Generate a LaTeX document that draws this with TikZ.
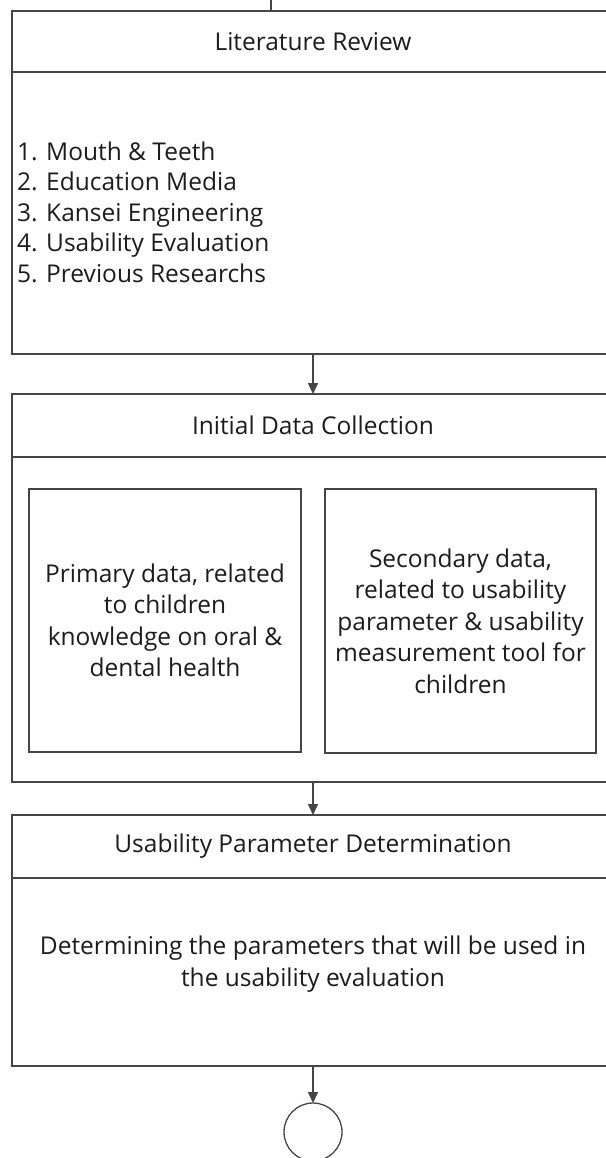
\documentclass[tikz,border=0pt]{standalone}
\usepackage{fontspec}
\setmainfont{Open Sans}
\usetikzlibrary{arrows.meta}
\definecolor{linec}{HTML}{454545}
\definecolor{txtc}{HTML}{1C1C1C}
\begin{document}
\begin{tikzpicture}[x=1pt,y=-1pt,
  box/.style={draw=linec, line width=1.6pt, rectangle, inner sep=0pt, outer sep=0pt, minimum width=602pt, text=txtc, font=\fontsize{24.5}{30}\selectfont},
  inbox/.style={draw=linec, line width=1.6pt, rectangle, inner sep=0pt, outer sep=0pt, text=txtc, align=center, font=\fontsize{24.5}{31.5}\selectfont},
  txt/.style={text=txtc, inner sep=0pt, font=\fontsize{24.5}{30.5}\selectfont},
  arr/.style={draw=linec, line width=1.6pt, -{Triangle[width=10pt,length=11pt]}},
  ln/.style={draw=linec, line width=1.2pt}
]
\useasboundingbox (0,0) rectangle (605,1158);
% section 1
\node[box, minimum height=61pt] (h1) at (313,41.5) {Literature Review};
\node[box, minimum height=282pt] (b1) at (313,213) {};
\node[txt, anchor=west, align=left] (l1) at (17,212) {1. Mouth \& Teeth\\2. Education Media\\3. Kansei Engineering\\4. Usability Evaluation\\5. Previous Researchs};
% section 2
\node[box, minimum height=63pt] (h2) at (313,425.5) {Initial Data Collection};
\node[box, minimum height=325pt] (b2) at (313,619.5) {};
\node[inbox, minimum width=272pt, minimum height=263pt] (p1) at (165,620.5) {Primary data, related\\to children\\knowledge on oral \&\\dental health};
\node[inbox, minimum width=271pt, minimum height=264pt] (p2) at (460.5,621) {Secondary data,\\related to usability\\parameter \& usability\\measurement tool for\\children};
% section 3
\node[box, minimum height=63pt] (h3) at (313,846.5) {Usability Parameter Determination};
\node[box, minimum height=188pt] (b3) at (313,972) {};
\node[txt, align=center, font=\fontsize{24.5}{32}\selectfont] (t3) at (313,964) {Determining the parameters that will be used in\\the usability evaluation};
% end circle
\node[draw=linec, line width=1.3pt, circle, minimum size=58pt, inner sep=0pt, outer sep=0pt] (endc) at (313,1132) {};
% connectors
\coordinate (top) at (271,0);
\draw[ln] (top) -- (top |- h1.north);
\draw[arr] (b1.south) -- (h2.north);
\draw[arr] (b2.south) -- (h3.north);
\draw[arr] (b3.south) -- (endc.north);
\end{tikzpicture}
\end{document}
